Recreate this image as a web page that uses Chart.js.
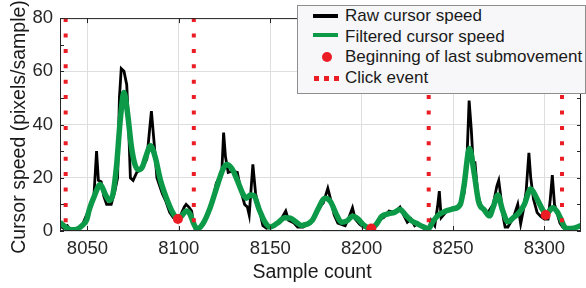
<!DOCTYPE html>
<html>
<head>
<meta charset="utf-8">
<script src="https://cdn.jsdelivr.net/npm/chart.js@4.4.0/dist/chart.umd.min.js"></script>
<style>
  html, body { margin: 0; padding: 0; background: #fff; }
  #wrap { position: relative; width: 586px; height: 288px; }
  #legend { position: absolute; left: 297px; top: 5px; width: 287px; height: 87px; background: #f7f7f9; border: 1px solid #8e8e8e;
            font-family: "Liberation Sans", Arial, sans-serif; font-size: 17px; color: #1a1a1a; }
  .row { position: absolute; left: 0; width: 100%; height: 20px; line-height: 20px; }
  .row .t { position: absolute; left: 47px; top: 0; white-space: nowrap; }
  .bar { position: absolute; left: 15px; width: 25px; height: 4px; }
  .dot { position: absolute; left: 24px; top: 5px; width: 10px; height: 10px; border-radius: 50%; background: #ec1c24; }
  .sq { position: absolute; top: 8px; width: 5px; height: 5px; background: #ec1c24; }
</style>
</head>
<body>
<div id="wrap">
  <canvas id="c" width="586" height="288"></canvas>
  <div id="legend">
    <div class="row" style="top:0px"><div class="bar" style="top:8px;background:#000"></div><span class="t">Raw cursor speed</span></div>
    <div class="row" style="top:21px"><div class="bar" style="top:6px;background:#0c9a48"></div><span class="t">Filtered cursor speed</span></div>
    <div class="row" style="top:41px"><div class="dot"></div><span class="t">Beginning of last submovement</span></div>
    <div class="row" style="top:62px"><div class="sq" style="left:16px"></div><div class="sq" style="left:26px"></div><div class="sq" style="left:36px"></div><span class="t">Click event</span></div>
  </div>
</div>
<script>
// raw cursor speed (sample, pixels/sample)
const rawX = [8035, 8037, 8039, 8040, 8042, 8044, 8045, 8047, 8049.5, 8051.5, 8053.5, 8055, 8056, 8057.5, 8059, 8060.5, 8063, 8065, 8066.5, 8067.5,
  8068.5, 8070, 8071.5, 8072.5, 8073.5, 8075, 8077, 8079, 8081, 8082.5, 8084, 8085, 8086.5, 8088, 8089.5, 8091, 8093, 8095, 8097, 8099,
  8101, 8103, 8104, 8105.5, 8107, 8108, 8109, 8111, 8113, 8115, 8117, 8119, 8120.5, 8122, 8123.5, 8124.5, 8125.5, 8127, 8129, 8132,
  8134, 8136, 8137.5, 8138.5, 8140.5, 8142, 8144, 8146, 8148, 8151, 8154, 8156, 8158.5, 8160, 8163, 8165, 8168, 8171, 8174, 8177,
  8179, 8181.5, 8183, 8185, 8187, 8189, 8191, 8193, 8195, 8196.5, 8199, 8201, 8203, 8206, 8209, 8212, 8215, 8218, 8221, 8223,
  8225, 8227, 8229, 8231, 8234, 8236.5, 8238, 8240, 8241.5, 8242.5, 8243.5, 8246, 8249, 8252, 8254, 8256, 8257.5, 8258.8, 8260, 8261,
  8262, 8263.5, 8265, 8268.5, 8272, 8274, 8275, 8276, 8277.5, 8278.5, 8280, 8283, 8285.4, 8287, 8288.5, 8290, 8291.5, 8292.5, 8294, 8296,
  8298, 8300, 8302, 8303.2, 8304.3, 8305.5, 8307, 8308.5, 8310, 8312, 8316, 8320];
const rawY = [2, 1, 2, 1, 0.5, 1, 0.5, 2, 6, 8.5, 12.5, 30, 19, 18.5, 13, 10, 10, 15, 20, 50,
  61, 60, 55, 40, 20, 19, 22, 23, 25, 27, 38, 45, 33, 20, 17, 14, 11, 7, 5, 5,
  6, 9, 10, 9, 7.5, 3, 0.5, 0.5, 2, 5, 9, 13, 18, 20, 22, 37, 28, 22, 22.5, 22,
  15, 10, 9, 6, 25, 14, 8, 2, 1, 1.5, 3, 4.5, 7.5, 4, 3, 1.5, 1.5, 3, 5, 9,
  10.5, 16, 12, 6, 3, 2.5, 2, 5, 8.7, 4.5, 2.5, 1.5, 1, 1, 4, 5, 7.5, 7, 9, 6,
  3.3, 4.5, 2, 3, 1, 0.3, 4, 2, 9, 15, 5, 7, 8.5, 9, 10, 14, 25, 49, 38, 25.7,
  25.7, 14, 10, 6.3, 10, 17, 19, 13.6, 5, 1.5, 1.5, 5, 10, 2.7, 8, 15, 29.4, 20, 12, 6.9,
  5.5, 4.5, 4.5, 12, 21, 10, 6.5, 3, 1.5, 0.3, 1, 1.5];

// filtered cursor speed
const filtX = [8035, 8038, 8041, 8044, 8047, 8049.5, 8051, 8054, 8057, 8060, 8062, 8064, 8066, 8068, 8070, 8072, 8074, 8076, 8078, 8080,
  8082, 8084.5, 8087, 8090, 8094, 8097, 8099.5, 8102, 8104, 8106, 8108, 8110, 8113, 8117, 8121, 8124, 8126, 8129, 8132, 8135,
  8137, 8139, 8141, 8144, 8147, 8150, 8154, 8158, 8161, 8164, 8167, 8170, 8173, 8176, 8180, 8183, 8186, 8189, 8192, 8195,
  8198, 8201, 8205, 8208, 8211, 8215, 8218, 8221, 8224, 8227, 8231, 8234, 8236.5, 8239, 8242, 8246, 8250, 8254, 8256, 8259,
  8261.5, 8264, 8267, 8270, 8272, 8274.5, 8277, 8280, 8283, 8286, 8289, 8292.5, 8296, 8299, 8301, 8304.5, 8307, 8309, 8311, 8313,
  8316, 8320];
const filtY = [3.3, 1.5, 0.5, 0.6, 2, 4, 8, 13.5, 17.5, 13.5, 11.5, 14, 25, 42, 52, 44, 32, 25, 23, 24,
  28, 32, 28, 19, 11, 6.5, 4.5, 6, 7.5, 6.5, 3, 0.8, 2.5, 8.5, 17, 23, 25, 23.5, 19, 14,
  12.3, 13.5, 13.3, 8, 3.5, 1.5, 3, 5, 4.8, 3.5, 2.1, 2.5, 4, 8, 12.3, 11, 6.5, 3.3, 3.8, 5.5,
  4.5, 2.3, 0.9, 2.5, 5.5, 6.5, 7, 8.1, 6, 4, 2.5, 1.5, 0.8, 3.5, 6, 7.5, 8.3, 10, 17, 31,
  22, 11, 8, 5.7, 9, 13.5, 8, 3.5, 5, 6.8, 10, 15.8, 12, 8, 6.5, 8.7, 7.2, 4.5, 1.5, 0.9,
  1.1, 2];

// beginning of last submovement
const subX = [8099.5, 8205.3, 8300.7];
const subY = [4.5, 0.9, 6];

// click events
const clickX = [8038.1, 8108.2, 8236.7, 8309.6];

const xTicks = [8050, 8100, 8150, 8200, 8250, 8300];
const yTicks = [0, 20, 40, 60, 80];
const xTitle = 'Sample count';
const yTitle = 'Cursor speed (pixels/sample)';

const RED = '#ec1c24';
const FONT = '"Liberation Sans", Arial, sans-serif';

const zip = (xs, ys) => xs.map((v, i) => ({ x: v, y: ys[i] }));

const datasets = [
  { label: 'Beginning of last submovement', data: zip(subX, subY), showLine: false,
    pointRadius: 5, pointBackgroundColor: RED, pointBorderWidth: 0, order: 0 },
  ...clickX.map(cx => ({ label: 'Click event', data: [{ x: cx, y: 80 }, { x: cx, y: 0 }],
    borderColor: RED, borderWidth: 4, borderDash: [4, 11.4], borderCapStyle: 'butt', pointRadius: 0, order: 1 })),
  { label: 'Filtered cursor speed', data: zip(filtX, filtY), borderColor: '#0c9a48', borderWidth: 5.5,
    cubicInterpolationMode: 'monotone', pointRadius: 0, order: 2 },
  { label: 'Raw cursor speed', data: zip(rawX, rawY), borderColor: '#000', borderWidth: 2.8,
    tension: 0, pointRadius: 0, order: 3 }
];

// box, inward ticks and axis titles
const axisDecor = {
  id: 'axisDecor',
  afterDatasetsDraw(chart) {
    const { ctx, chartArea: a, scales: { x, y } } = chart;
    ctx.save();
    ctx.strokeStyle = '#262626';
    ctx.lineWidth = 1;
    ctx.strokeRect(a.left + 0.5, a.top + 0.5, a.right - a.left - 1, a.bottom - a.top - 1);
    ctx.beginPath();
    xTicks.forEach(v => {
      const px = Math.round(x.getPixelForValue(v)) + 0.5;
      ctx.moveTo(px, a.bottom); ctx.lineTo(px, a.bottom - 5);
      ctx.moveTo(px, a.top); ctx.lineTo(px, a.top + 5);
    });
    for (let v = 0; v <= 80; v += 10) {
      const py = Math.round(y.getPixelForValue(v)) + 0.5;
      ctx.moveTo(a.left, py); ctx.lineTo(a.left + 4, py);
      ctx.moveTo(a.right, py); ctx.lineTo(a.right - 4, py);
    }
    ctx.stroke();
    ctx.fillStyle = '#1a1a1a';
    ctx.font = '19.5px ' + FONT;
    ctx.textAlign = 'center';
    ctx.textBaseline = 'alphabetic';
    ctx.fillText(xTitle, 312, 278);
    ctx.translate(25, 127);
    ctx.rotate(-Math.PI / 2);
    ctx.fillText(yTitle, 0, 0);
    ctx.restore();
  }
};

new Chart(document.getElementById('c'), {
  type: 'line',
  data: { datasets },
  options: {
    responsive: false,
    animation: false,
    devicePixelRatio: 1,
    layout: { padding: { top: 11, right: 4, left: 0, bottom: 0 } },
    plugins: { legend: { display: false }, tooltip: { enabled: false } },
    scales: {
      x: {
        type: 'linear', min: 8035, max: 8320,
        afterBuildTicks: s => { s.ticks = xTicks.map(v => ({ value: v })); },
        afterFit: s => { s.height = 57; },
        grid: { color: '#dedede', drawTicks: false },
        border: { display: false },
        ticks: { padding: 7, color: '#262626', font: { family: FONT, size: 18.5 }, maxRotation: 0, autoSkip: false,
                 callback: v => String(v) }
      },
      y: {
        min: 0, max: 80,
        afterBuildTicks: s => { s.ticks = yTicks.map(v => ({ value: v })); },
        afterFit: s => { s.width = 60; },
        grid: { color: '#dedede', drawTicks: false },
        border: { display: false },
        ticks: { padding: 7, color: '#262626', font: { family: FONT, size: 18.5 }, callback: v => String(v) }
      }
    }
  },
  plugins: [axisDecor]
});
</script>
</body>
</html>
